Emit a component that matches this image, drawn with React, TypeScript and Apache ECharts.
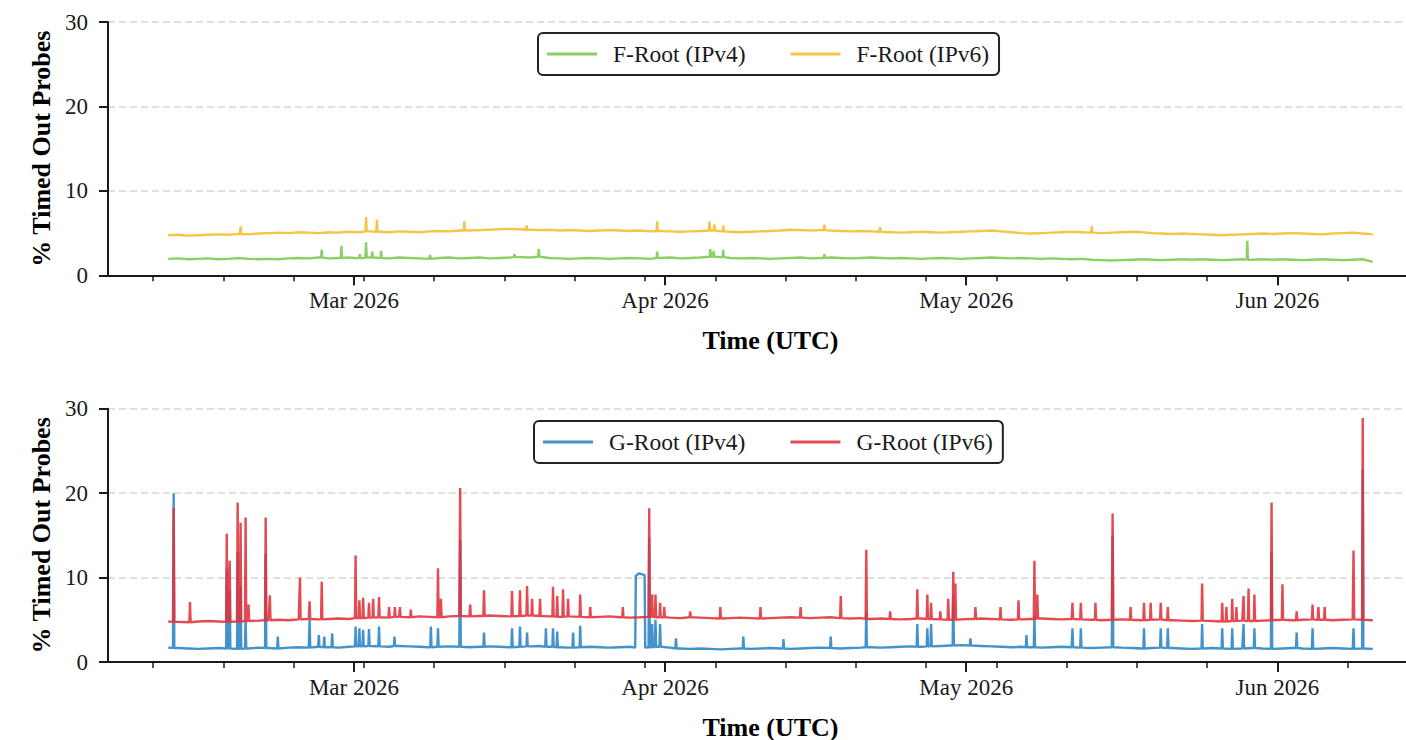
import React, { useEffect, useRef } from "react";
import * as echarts from "echarts";

const DAY = 86400000;
const HOUR = 3600000;
// first daily reading: 2026-02-10 12:00 UTC, one reading per day through 2026-06-10
const START = Date.UTC(2026, 1, 10, 12);

const X_MIN = Date.UTC(2026, 1, 4, 12);
const X_MAX = Date.UTC(2026, 5, 16, 12);

const MONTH_TICKS = ["2026-03-01", "2026-04-01", "2026-05-01", "2026-06-01"];
const WEEK_TICKS = [
  "2026-02-09", "2026-02-16", "2026-02-23", "2026-03-02", "2026-03-09", "2026-03-16",
  "2026-03-23", "2026-03-30", "2026-04-06", "2026-04-13", "2026-04-20", "2026-04-27",
  "2026-05-04", "2026-05-11", "2026-05-18", "2026-05-25", "2026-06-01", "2026-06-08",
  "2026-06-15",
];
const MONTH_NAMES = ["Jan", "Feb", "Mar", "Apr", "May", "Jun", "Jul", "Aug", "Sep", "Oct", "Nov", "Dec"];
const Y_TICKS = [0, 10, 20, 30];

// ---- F-Root IPv4 daily baseline (%)
const F4_BASE = [
  1.95, 2.0, 1.9, 1.95, 2.0, 1.9, 1.95, 2.05, 1.95, 1.9,
  1.95, 1.9, 2.0, 2.05, 2.0, 2.1, 2.0, 2.05, 2.1, 2.0,
  2.1, 2.05, 2.0, 2.1, 2.05, 2.0, 1.95, 2.05, 2.1, 2.0,
  2.05, 2.1, 2.0, 2.05, 2.1, 2.15, 2.1, 2.2, 2.05, 2.0,
  1.95, 2.0, 2.05, 2.0, 1.95, 2.0, 2.05, 2.0, 1.95, 2.05,
  2.1, 2.0, 2.05, 2.1, 2.2, 2.15, 2.05, 2.0, 2.05, 2.0,
  1.95, 2.0, 2.05, 2.1, 2.0, 2.05, 2.1, 2.05, 2.0, 2.05,
  2.1, 2.05, 2.0, 2.05, 2.0, 1.95, 2.0, 2.05, 2.0, 1.95,
  2.0, 2.05, 2.1, 2.05, 2.0, 2.05, 2.0, 1.95, 2.0, 1.95,
  1.9, 1.95, 1.85, 1.8, 1.75, 1.8, 1.85, 1.9, 1.85, 1.8,
  1.85, 1.9, 1.85, 1.9, 1.85, 1.8, 1.85, 1.9, 1.85, 1.9,
  1.85, 1.9, 1.85, 1.8, 1.85, 1.9, 1.85, 1.8, 1.85, 1.9,
  1.6,
];
// ---- F-Root IPv6 daily baseline (%)
const F6_BASE = [
  4.75, 4.8, 4.7, 4.75, 4.8, 4.85, 4.8, 4.9, 4.85, 4.95,
  5.0, 5.05, 5.0, 5.1, 5.05, 5.0, 5.1, 5.05, 5.15, 5.1,
  5.2, 5.15, 5.1, 5.2, 5.15, 5.1, 5.2, 5.25, 5.2, 5.3,
  5.3, 5.35, 5.4, 5.45, 5.5, 5.45, 5.4, 5.35, 5.4, 5.3,
  5.35, 5.3, 5.25, 5.3, 5.35, 5.3, 5.25, 5.3, 5.2, 5.25,
  5.2, 5.15, 5.2, 5.25, 5.3, 5.2, 5.15, 5.1, 5.15, 5.2,
  5.25, 5.3, 5.4, 5.35, 5.3, 5.35, 5.3, 5.25, 5.2, 5.25,
  5.2, 5.15, 5.1, 5.05, 5.1, 5.15, 5.1, 5.05, 5.1, 5.15,
  5.2, 5.25, 5.3, 5.2, 5.1, 5.0, 4.95, 5.0, 5.05, 5.1,
  5.15, 5.1, 5.05, 5.0, 5.05, 5.1, 5.15, 5.1, 5.0, 4.95,
  4.9, 4.95, 4.9, 4.85, 4.8, 4.75, 4.8, 4.85, 4.9, 4.95,
  4.9, 4.95, 5.0, 4.95, 4.9, 4.85, 4.95, 5.0, 5.05, 4.95,
  4.85,
];
// ---- G-Root IPv4 daily baseline (%)
const G4_BASE = [
  1.7, 1.65, 1.6, 1.55, 1.6, 1.65, 1.6, 1.55, 1.6, 1.7,
  1.65, 1.6, 1.7, 1.75, 1.7, 1.8, 1.75, 1.7, 1.8, 1.85,
  1.9, 1.85, 1.8, 1.9, 1.85, 1.8, 1.75, 1.8, 1.85, 1.8,
  1.75, 1.8, 1.85, 1.8, 1.75, 1.8, 1.85, 1.9, 1.8, 1.75,
  1.7, 1.75, 1.8, 1.75, 1.7, 1.75, 1.8, 1.7, 1.75, 1.8,
  1.7, 1.6, 1.55, 1.6, 1.55, 1.5, 1.55, 1.6, 1.55, 1.6,
  1.65, 1.6, 1.55, 1.6, 1.65, 1.7, 1.65, 1.6, 1.65, 1.7,
  1.75, 1.7, 1.75, 1.8, 1.85, 1.8, 1.85, 1.9, 1.95, 2.0,
  1.95, 1.9, 1.85, 1.8, 1.75, 1.8, 1.75, 1.7, 1.75, 1.8,
  1.75, 1.7, 1.65, 1.7, 1.75, 1.7, 1.65, 1.6, 1.65, 1.7,
  1.65, 1.6, 1.55, 1.6, 1.65, 1.6, 1.55, 1.6, 1.65, 1.6,
  1.55, 1.6, 1.65, 1.6, 1.55, 1.6, 1.65, 1.6, 1.55, 1.6,
  1.55,
];
// ---- G-Root IPv6 daily baseline (%)
const G6_BASE = [
  4.8, 4.75, 4.7, 4.8, 4.85, 4.8, 4.75, 4.8, 4.85, 4.9,
  4.95, 5.0, 4.95, 5.05, 5.1, 5.05, 5.1, 5.15, 5.1, 5.2,
  5.25, 5.3, 5.25, 5.35, 5.3, 5.4, 5.35, 5.3, 5.4, 5.45,
  5.4, 5.45, 5.5, 5.45, 5.4, 5.45, 5.5, 5.45, 5.4, 5.35,
  5.4, 5.35, 5.3, 5.35, 5.4, 5.3, 5.25, 5.3, 5.35, 5.3,
  5.25, 5.2, 5.3, 5.25, 5.2, 5.15, 5.2, 5.25, 5.2, 5.15,
  5.2, 5.25, 5.3, 5.25, 5.2, 5.25, 5.3, 5.2, 5.15, 5.2,
  5.1, 5.15, 5.1, 5.05, 5.1, 5.15, 5.1, 5.05, 5.0, 5.05,
  5.1, 5.15, 5.1, 5.05, 5.0, 5.05, 5.1, 5.15, 5.1, 5.05,
  5.1, 5.05, 5.0, 4.95, 5.0, 5.05, 5.0, 4.95, 5.0, 5.05,
  4.95, 4.9, 4.85, 4.9, 4.85, 4.8, 4.85, 4.9, 4.85, 4.9,
  4.95, 5.0, 4.95, 5.0, 5.05, 5.0, 4.95, 5.0, 5.05, 5.0,
  4.95,
];

type Pt = [string, number];

const F4_SPIKES: Pt[] = [
  ["2026-02-25T19:00:00Z", 3.0], ["2026-02-27T18:00:00Z", 3.5], ["2026-03-01T14:00:00Z", 2.5],
  ["2026-03-02T05:00:00Z", 3.9], ["2026-03-02T20:00:00Z", 2.8], ["2026-03-03T17:00:00Z", 2.9],
  ["2026-03-08T14:00:00Z", 2.4], ["2026-03-17T00:00:00Z", 2.5], ["2026-03-19T10:00:00Z", 3.1],
  ["2026-03-31T05:00:00Z", 2.8], ["2026-04-05T12:00:00Z", 3.1], ["2026-04-05T20:00:00Z", 2.9],
  ["2026-04-06T19:00:00Z", 3.0], ["2026-04-16T21:00:00Z", 2.5], ["2026-05-29T00:00:00Z", 4.1],
];
const F6_SPIKES: Pt[] = [
  ["2026-02-17T17:00:00Z", 5.8], ["2026-03-02T05:00:00Z", 6.9], ["2026-03-03T07:00:00Z", 6.6],
  ["2026-03-12T00:00:00Z", 6.4], ["2026-03-18T05:00:00Z", 5.9], ["2026-03-31T05:00:00Z", 6.4],
  ["2026-04-05T10:00:00Z", 6.4], ["2026-04-05T22:00:00Z", 6.0], ["2026-04-06T19:00:00Z", 5.9],
  ["2026-04-16T21:00:00Z", 6.0], ["2026-04-22T10:00:00Z", 5.7], ["2026-05-13T12:00:00Z", 5.8],
];
const G4_SPIKES: Pt[] = [
  ["2026-02-11T01:00:00Z", 20.0], ["2026-02-16T08:00:00Z", 11.0], ["2026-02-16T15:00:00Z", 8.5],
  ["2026-02-17T10:00:00Z", 13.0], ["2026-02-17T17:00:00Z", 9.0], ["2026-02-18T05:00:00Z", 5.0],
  ["2026-02-20T05:00:00Z", 12.8], ["2026-02-21T10:00:00Z", 3.0], ["2026-02-24T14:00:00Z", 5.0],
  ["2026-02-25T12:00:00Z", 3.2], ["2026-02-26T01:00:00Z", 3.0], ["2026-02-26T20:00:00Z", 3.4],
  ["2026-03-01T04:00:00Z", 4.2], ["2026-03-01T13:00:00Z", 4.0], ["2026-03-01T22:00:00Z", 3.8],
  ["2026-03-02T12:00:00Z", 3.9], ["2026-03-03T12:00:00Z", 4.2], ["2026-03-05T01:00:00Z", 3.0],
  ["2026-03-08T16:00:00Z", 4.2], ["2026-03-09T09:00:00Z", 4.0], ["2026-03-11T14:00:00Z", 14.5],
  ["2026-03-13T23:00:00Z", 3.5], ["2026-03-16T18:00:00Z", 4.0], ["2026-03-17T13:00:00Z", 4.2],
  ["2026-03-18T06:00:00Z", 3.5], ["2026-03-20T03:00:00Z", 4.0], ["2026-03-20T20:00:00Z", 4.0],
  ["2026-03-21T06:00:00Z", 3.6], ["2026-03-22T20:00:00Z", 3.5], ["2026-03-23T13:00:00Z", 4.3],
  ["2026-03-30T10:00:00Z", 14.7], ["2026-03-30T17:00:00Z", 4.5], ["2026-03-31T01:00:00Z", 5.0],
  ["2026-03-31T12:00:00Z", 4.5], ["2026-04-02T02:00:00Z", 2.8], ["2026-04-08T19:00:00Z", 3.0],
  ["2026-04-12T19:00:00Z", 2.7], ["2026-04-17T12:00:00Z", 3.0], ["2026-04-21T01:00:00Z", 6.0],
  ["2026-04-26T03:00:00Z", 4.5], ["2026-04-27T03:00:00Z", 4.0], ["2026-04-27T12:00:00Z", 4.5],
  ["2026-04-29T17:00:00Z", 8.0], ["2026-05-01T10:00:00Z", 2.8], ["2026-05-07T00:00:00Z", 3.2],
  ["2026-05-07T19:00:00Z", 5.5], ["2026-05-11T14:00:00Z", 4.0], ["2026-05-12T10:00:00Z", 4.0],
  ["2026-05-15T14:00:00Z", 15.0], ["2026-05-18T17:00:00Z", 4.0], ["2026-05-20T09:00:00Z", 4.0],
  ["2026-05-21T02:00:00Z", 4.0], ["2026-05-24T12:00:00Z", 4.5], ["2026-05-26T12:00:00Z", 4.0],
  ["2026-05-27T12:00:00Z", 4.0], ["2026-05-28T15:00:00Z", 4.5], ["2026-05-29T17:00:00Z", 4.0],
  ["2026-05-31T10:00:00Z", 13.0], ["2026-06-02T22:00:00Z", 3.5], ["2026-06-04T12:00:00Z", 4.0],
  ["2026-06-08T14:00:00Z", 4.0], ["2026-06-09T12:00:00Z", 22.8],
];
// sustained G-Root IPv4 episode around 29 March
const G4_BURSTS: Pt[][] = [
  [
    ["2026-03-29T02:00:00Z", 10.2], ["2026-03-29T09:00:00Z", 10.5],
    ["2026-03-29T16:00:00Z", 10.4], ["2026-03-29T23:00:00Z", 10.3],
  ],
];
const G6_SPIKES: Pt[] = [
  ["2026-02-11T01:00:00Z", 18.2], ["2026-02-12T16:00:00Z", 7.1], ["2026-02-16T08:00:00Z", 15.2],
  ["2026-02-16T15:00:00Z", 12.0], ["2026-02-17T10:00:00Z", 18.9], ["2026-02-17T17:00:00Z", 16.5],
  ["2026-02-18T05:00:00Z", 17.1], ["2026-02-18T12:00:00Z", 6.8], ["2026-02-20T05:00:00Z", 17.1],
  ["2026-02-20T15:00:00Z", 7.9], ["2026-02-23T15:00:00Z", 10.0], ["2026-02-24T14:00:00Z", 7.2],
  ["2026-02-25T19:00:00Z", 9.5], ["2026-03-01T04:00:00Z", 12.6], ["2026-03-01T13:00:00Z", 7.3],
  ["2026-03-01T22:00:00Z", 7.6], ["2026-03-02T12:00:00Z", 7.0], ["2026-03-02T22:00:00Z", 7.5],
  ["2026-03-03T12:00:00Z", 7.7], ["2026-03-04T12:00:00Z", 6.5], ["2026-03-05T02:00:00Z", 6.5],
  ["2026-03-05T14:00:00Z", 6.5], ["2026-03-06T16:00:00Z", 6.2], ["2026-03-09T09:00:00Z", 11.1],
  ["2026-03-09T16:00:00Z", 7.5], ["2026-03-11T14:00:00Z", 20.6], ["2026-03-12T14:00:00Z", 6.8],
  ["2026-03-13T23:00:00Z", 8.5], ["2026-03-16T18:00:00Z", 8.4], ["2026-03-17T13:00:00Z", 8.5],
  ["2026-03-18T06:00:00Z", 9.0], ["2026-03-18T18:00:00Z", 7.5], ["2026-03-19T13:00:00Z", 7.5],
  ["2026-03-20T20:00:00Z", 8.9], ["2026-03-21T06:00:00Z", 7.8], ["2026-03-21T20:00:00Z", 8.6],
  ["2026-03-22T08:00:00Z", 7.5], ["2026-03-23T13:00:00Z", 8.0], ["2026-03-24T13:00:00Z", 6.5],
  ["2026-03-27T19:00:00Z", 6.5], ["2026-03-30T10:00:00Z", 18.2], ["2026-03-30T17:00:00Z", 8.0],
  ["2026-03-31T01:00:00Z", 8.0], ["2026-03-31T12:00:00Z", 7.0], ["2026-03-31T22:00:00Z", 6.5],
  ["2026-04-03T12:00:00Z", 6.0], ["2026-04-06T12:00:00Z", 6.5], ["2026-04-10T12:00:00Z", 6.5],
  ["2026-04-14T12:00:00Z", 6.5], ["2026-04-18T12:00:00Z", 7.8], ["2026-04-21T01:00:00Z", 13.3],
  ["2026-04-23T10:00:00Z", 6.0], ["2026-04-26T03:00:00Z", 8.6], ["2026-04-27T03:00:00Z", 8.0],
  ["2026-04-27T12:00:00Z", 7.0], ["2026-04-28T10:00:00Z", 6.0], ["2026-04-29T05:00:00Z", 7.5],
  ["2026-04-29T17:00:00Z", 10.7], ["2026-04-29T22:00:00Z", 9.3], ["2026-05-01T22:00:00Z", 6.5],
  ["2026-05-04T10:00:00Z", 6.5], ["2026-05-06T05:00:00Z", 7.3], ["2026-05-07T19:00:00Z", 12.0],
  ["2026-05-08T02:00:00Z", 8.0], ["2026-05-11T14:00:00Z", 7.0], ["2026-05-12T10:00:00Z", 7.0],
  ["2026-05-13T21:00:00Z", 7.0], ["2026-05-15T14:00:00Z", 17.6], ["2026-05-17T09:00:00Z", 6.5],
  ["2026-05-18T17:00:00Z", 7.0], ["2026-05-19T09:00:00Z", 7.0], ["2026-05-20T09:00:00Z", 7.0],
  ["2026-05-21T02:00:00Z", 6.5], ["2026-05-24T12:00:00Z", 9.3], ["2026-05-26T12:00:00Z", 7.0],
  ["2026-05-26T22:00:00Z", 6.5], ["2026-05-27T12:00:00Z", 7.5], ["2026-05-27T22:00:00Z", 6.5],
  ["2026-05-28T15:00:00Z", 7.8], ["2026-05-29T03:00:00Z", 8.7], ["2026-05-29T17:00:00Z", 8.0],
  ["2026-05-31T10:00:00Z", 18.9], ["2026-06-01T12:00:00Z", 9.2], ["2026-06-02T22:00:00Z", 6.0],
  ["2026-06-04T12:00:00Z", 6.8], ["2026-06-05T02:00:00Z", 6.5], ["2026-06-05T17:00:00Z", 6.5],
  ["2026-06-08T14:00:00Z", 13.2], ["2026-06-09T12:00:00Z", 28.9],
];

const COLORS = {
  f4: "#86cc5c",
  f6: "#f5c23e",
  g4: "#3a8cc9",
  g6: "#e0313a",
};

function buildSeries(base: number[], spikes: Pt[], bursts: Pt[][] = []): [number, number][] {
  const FLANK = 1.5 * HOUR;
  const episodes: [number, number][][] = [
    ...spikes.map((p) => [[Date.parse(p[0]), p[1]] as [number, number]]),
    ...bursts.map((b) => b.map((p) => [Date.parse(p[0]), p[1]] as [number, number])),
  ];
  const windows = episodes.map((ep) => [ep[0][0] - FLANK, ep[ep.length - 1][0] + FLANK]);
  const pts: [number, number][] = [];
  base.forEach((v, i) => {
    const t = START + i * DAY;
    if (!windows.some(([a, b]) => t >= a && t <= b)) pts.push([t, v]);
  });
  const baseAt = (t: number) => {
    const i = Math.max(0, Math.min(base.length - 1, Math.round((t - START) / DAY)));
    return base[i];
  };
  episodes.forEach((ep) => {
    const t0 = ep[0][0];
    const t1 = ep[ep.length - 1][0];
    pts.push([t0 - FLANK, baseAt(t0)]);
    ep.forEach((p) => pts.push(p));
    pts.push([t1 + FLANK, baseAt(t1)]);
  });
  pts.sort((a, b) => a[0] - b[0]);
  return pts;
}

const FONT = "'Liberation Serif', 'Times New Roman', serif";
const INK = "#1a1a1a";

export default function App() {
  const ref = useRef<HTMLDivElement>(null);
  useEffect(() => {
    if (!ref.current) return;
    const chart = echarts.init(ref.current, null, { renderer: "svg" });
    const monthVals = MONTH_TICKS.map((d) => Date.parse(d + "T00:00:00Z"));
    const weekVals = WEEK_TICKS.map((d) => Date.parse(d + "T00:00:00Z"));

    const grids = [
      { left: 108, width: 1325, top: 22, height: 253.3, outerBoundsMode: "none", containLabel: false },
      { left: 108, width: 1325, top: 408.7, height: 253.3, outerBoundsMode: "none", containLabel: false },
    ];

    const mainX = (gi: number) => ({
      type: "value",
      gridIndex: gi,
      position: "bottom",
      min: X_MIN,
      max: X_MAX,
      axisLine: { show: true, onZero: false, lineStyle: { color: INK, width: 2 } },
      axisTick: { show: true, customValues: monthVals, length: 10, lineStyle: { color: INK, width: 2 } },
      axisLabel: {
        show: true,
        customValues: monthVals,
        formatter: (v: number) => {
          const d = new Date(v);
          return MONTH_NAMES[d.getUTCMonth()] + " " + d.getUTCFullYear();
        },
        fontFamily: FONT,
        fontSize: 23,
        color: INK,
        margin: 14,
      },
      splitLine: { show: false },
      name: "Time (UTC)",
      nameLocation: "middle",
      nameGap: 52,
      nameTextStyle: { fontFamily: FONT, fontSize: 26, fontWeight: "bold", color: "#000" },
    });
    const minorX = (gi: number) => ({
      type: "value",
      gridIndex: gi,
      position: "bottom",
      min: X_MIN,
      max: X_MAX,
      axisLine: { show: false, onZero: false },
      axisTick: { show: true, customValues: weekVals, length: 6, lineStyle: { color: INK, width: 1.5 } },
      axisLabel: { show: false },
      splitLine: { show: false },
    });
    const yAx = (gi: number) => ({
      type: "value",
      gridIndex: gi,
      min: Y_TICKS[0],
      max: Y_TICKS[Y_TICKS.length - 1],
      interval: 10,
      axisLine: { show: true, onZero: false, lineStyle: { color: INK, width: 2 } },
      axisTick: { show: true, length: 9, lineStyle: { color: INK, width: 2 } },
      axisLabel: { fontFamily: FONT, fontSize: 23, color: INK, margin: 20 },
      splitLine: { show: true, lineStyle: { type: [7, 4], color: "#d6d6d6", width: 1.5 } },
      name: "% Timed Out Probes",
      nameLocation: "middle",
      nameGap: 49,
      nameTextStyle: { fontFamily: FONT, fontSize: 26, fontWeight: "bold", color: "#000" },
    });

    const legend = (names: string[], left: number, top: number) => ({
      data: names,
      left,
      top,
      orient: "horizontal",
      icon: "rect",
      itemWidth: 50,
      itemHeight: 3,
      itemGap: 45,
      padding: [9, 10, 9, 9],
      borderColor: "#222",
      borderWidth: 2,
      borderRadius: 5,
      backgroundColor: "#fff",
      selectedMode: false,
      textStyle: { fontFamily: FONT, fontSize: 23.5, color: INK, padding: [0, 0, 0, 11], lineHeight: 20 },
    });

    const line = (name: string, color: string, xi: number, yi: number, data: [number, number][], opacity: number) => ({
      type: "line",
      name,
      xAxisIndex: xi,
      yAxisIndex: yi,
      data,
      symbol: "none",
      showSymbol: false,
      lineStyle: { color, width: 2.4, opacity },
      itemStyle: { color, opacity },
      emphasis: { disabled: true },
    });

    chart.setOption({
      animation: false,
      backgroundColor: "#fff",
      textStyle: { fontFamily: FONT },
      grid: grids,
      xAxis: [mainX(0), minorX(0), mainX(1), minorX(1)],
      yAxis: [yAx(0), yAx(1)],
      legend: [
        legend(["F-Root (IPv4)", "F-Root (IPv6)"], 538, 33),
        legend(["G-Root (IPv4)", "G-Root (IPv6)"], 534, 421),
      ],
      series: [
        line("F-Root (IPv4)", COLORS.f4, 0, 0, buildSeries(F4_BASE, F4_SPIKES), 0.95),
        line("F-Root (IPv6)", COLORS.f6, 0, 0, buildSeries(F6_BASE, F6_SPIKES), 0.95),
        line("G-Root (IPv4)", COLORS.g4, 2, 1, buildSeries(G4_BASE, G4_SPIKES, G4_BURSTS), 0.95),
        line("G-Root (IPv6)", COLORS.g6, 2, 1, buildSeries(G6_BASE, G6_SPIKES), 0.88),
      ],
    });
    return () => chart.dispose();
  }, []);
  return (
    <div
      ref={ref}
      style={{ position: "absolute", left: 0, top: 0, width: 1406, height: 740, background: "#fff" }}
    />
  );
}
